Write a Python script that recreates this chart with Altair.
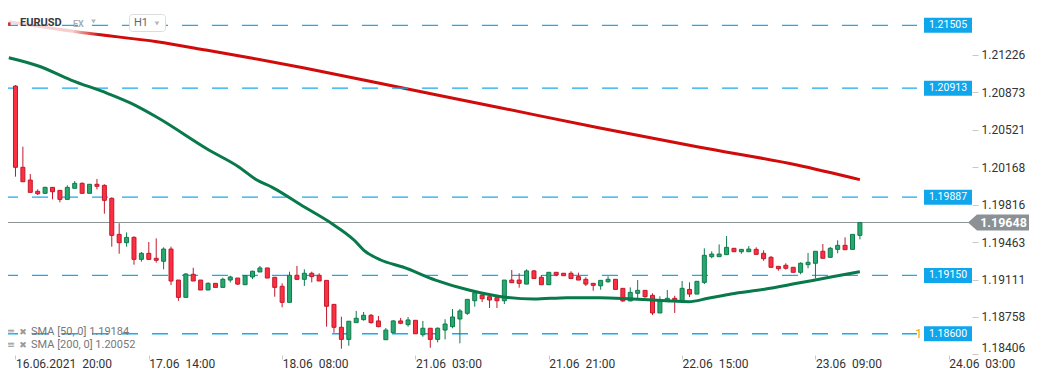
import altair as alt
import pandas as pd
import numpy as np

# ---------------- data ----------------
opens = [1.20933, 1.20168, 1.20048, 1.19942, 1.19923, 1.19979, 1.19951, 1.19866, 1.19970, 1.20017,
         1.19923, 1.20008, 1.19998, 1.19876, 1.19536, 1.19458, 1.19508, 1.19301, 1.19358, 1.19311,
         1.19283, 1.19398, 1.19106, 1.18943, 1.19160, 1.19106, 1.19012, 1.19075, 1.19037, 1.19106,
         1.19125, 1.19062, 1.19135, 1.19182, 1.19220, 1.19132, 1.19047, 1.18896, 1.19151, 1.19113,
         1.19170, 1.19151, 1.19103, 1.18877, 1.18661, 1.18547, 1.18705, 1.18733, 1.18774, 1.18721,
         1.18544, 1.18610, 1.18721, 1.18686, 1.18727, 1.18591, 1.18652, 1.18547, 1.18635, 1.18667,
         1.18739, 1.18793, 1.18911, 1.18965, 1.18949, 1.18940, 1.18911, 1.19106, 1.19106, 1.19068,
         1.19192, 1.19132, 1.19062, 1.19179, 1.19170, 1.19170, 1.19138, 1.19113, 1.19075, 1.19052,
         1.19090, 1.19113, 1.19028, 1.18909, 1.18981, 1.19009, 1.18962, 1.18796, 1.18906, 1.18934,
         1.18909, 1.19018, 1.18974, 1.19084, 1.19326, 1.19326, 1.19345, 1.19405, 1.19373, 1.19373,
         1.19395, 1.19358, 1.19320, 1.19235, 1.19245, 1.19226, 1.19179, 1.19251, 1.19264, 1.19377,
         1.19320, 1.19395, 1.19433, 1.19395, 1.19527]
highs = [1.20943, 1.20362, 1.20105, 1.19960, 1.19985, 1.19982, 1.19951, 1.19998, 1.20039, 1.20026,
         1.20008, 1.20058, 1.20008, 1.19885, 1.19641, 1.19555, 1.19518, 1.19370, 1.19464, 1.19499,
         1.19414, 1.19420, 1.19106, 1.19170, 1.19222, 1.19106, 1.19084, 1.19075, 1.19128, 1.19147,
         1.19125, 1.19147, 1.19194, 1.19239, 1.19220, 1.19132, 1.19075, 1.19185, 1.19239, 1.19207,
         1.19185, 1.19170, 1.19103, 1.18877, 1.18761, 1.18718, 1.18815, 1.18805, 1.18786, 1.18768,
         1.18654, 1.18727, 1.18749, 1.18758, 1.18727, 1.18721, 1.18652, 1.18660, 1.18737, 1.18833,
         1.18833, 1.18924, 1.19003, 1.18974, 1.18949, 1.18940, 1.19106, 1.19201, 1.19170, 1.19207,
         1.19201, 1.19154, 1.19179, 1.19179, 1.19170, 1.19189, 1.19176, 1.19132, 1.19075, 1.19103,
         1.19142, 1.19113, 1.19028, 1.19037, 1.19106, 1.19009, 1.18981, 1.18953, 1.19012, 1.18958,
         1.19097, 1.19084, 1.19094, 1.19405, 1.19377, 1.19442, 1.19520, 1.19405, 1.19395, 1.19426,
         1.19414, 1.19386, 1.19333, 1.19235, 1.19264, 1.19226, 1.19273, 1.19361, 1.19377, 1.19445,
         1.19417, 1.19480, 1.19508, 1.19536, 1.19653]
lows = [1.20080, 1.20032, 1.19932, 1.19907, 1.19920, 1.19866, 1.19838, 1.19866, 1.19970, 1.19923,
        1.19923, 1.19960, 1.19731, 1.19420, 1.19354, 1.19420, 1.19251, 1.19279, 1.19298, 1.19270,
        1.19207, 1.19059, 1.18911, 1.18943, 1.19097, 1.19012, 1.19012, 1.19037, 1.19037, 1.19084,
        1.19059, 1.19062, 1.19116, 1.19182, 1.19125, 1.18949, 1.18849, 1.18896, 1.19106, 1.19050,
        1.19084, 1.19097, 1.18667, 1.18610, 1.18459, 1.18487, 1.18705, 1.18723, 1.18695, 1.18661,
        1.18544, 1.18610, 1.18690, 1.18667, 1.18600, 1.18572, 1.18468, 1.18519, 1.18547, 1.18652,
        1.18510, 1.18777, 1.18855, 1.18899, 1.18843, 1.18843, 1.18880, 1.19081, 1.19034, 1.19068,
        1.19120, 1.19062, 1.19062, 1.19142, 1.19147, 1.19120, 1.19106, 1.19050, 1.19005, 1.19015,
        1.19081, 1.19018, 1.18902, 1.18909, 1.18934, 1.18940, 1.18777, 1.18796, 1.18906, 1.18796,
        1.18909, 1.18946, 1.18974, 1.19068, 1.19311, 1.19326, 1.19345, 1.19373, 1.19354, 1.19373,
        1.19348, 1.19288, 1.19226, 1.19194, 1.19204, 1.19179, 1.19160, 1.19217, 1.19122, 1.19311,
        1.19320, 1.19358, 1.19392, 1.19395, 1.19489]
closes = [1.20168, 1.20032, 1.19932, 1.19919, 1.19979, 1.19938, 1.19866, 1.19979, 1.20017, 1.19923,
          1.20008, 1.19989, 1.19857, 1.19527, 1.19458, 1.19508, 1.19301, 1.19358, 1.19301, 1.19292,
          1.19398, 1.19097, 1.18943, 1.19163, 1.19097, 1.19012, 1.19075, 1.19037, 1.19113, 1.19135,
          1.19068, 1.19147, 1.19189, 1.19220, 1.19125, 1.19037, 1.18896, 1.19151, 1.19113, 1.19170,
          1.19138, 1.19097, 1.18859, 1.18661, 1.18547, 1.18718, 1.18746, 1.18774, 1.18705, 1.18667,
          1.18635, 1.18721, 1.18699, 1.18730, 1.18600, 1.18652, 1.18547, 1.18652, 1.18692, 1.18758,
          1.18815, 1.18924, 1.18987, 1.18930, 1.18918, 1.18911, 1.19106, 1.19081, 1.19075, 1.19192,
          1.19120, 1.19062, 1.19179, 1.19154, 1.19147, 1.19120, 1.19106, 1.19068, 1.19056, 1.19103,
          1.19113, 1.19018, 1.18909, 1.18990, 1.19009, 1.18949, 1.18796, 1.18906, 1.18934, 1.18915,
          1.19028, 1.18974, 1.19094, 1.19339, 1.19351, 1.19351, 1.19414, 1.19373, 1.19395, 1.19398,
          1.19348, 1.19307, 1.19226, 1.19213, 1.19217, 1.19179, 1.19264, 1.19273, 1.19377, 1.19311,
          1.19405, 1.19433, 1.19392, 1.19536, 1.19648]

sma50_idx = [-0.9, 3.1, 7.5, 12.4, 15.5, 19.1, 26.1, 30.1, 32.6, 34.6, 39.0, 42.6, 45.7, 47.0, 49.3,
             52.3, 56.7, 61.2, 65.6, 70.0, 74.5, 78.9, 83.3, 87.8, 90.9, 93.5, 96.6, 101.1,
             105.5, 109.9, 114]
sma50_val = [1.21200, 1.21122, 1.20990, 1.20865, 1.20774, 1.20639, 1.20331, 1.20174, 1.20048,
             1.19982, 1.19794, 1.19643, 1.19483, 1.19389, 1.19295, 1.19229, 1.19106, 1.19012,
             1.18949, 1.18927, 1.18940, 1.18940, 1.18927, 1.18911, 1.18902, 1.18934, 1.18975,
             1.19019, 1.19075, 1.19132, 1.19184]

sma200_idx = [-0.9, 9.8, 19.1, 25.7, 32.0, 39.0, 52.3, 65.6, 78.9, 92.2, 105.5, 114]
sma200_val = [1.21540, 1.21430, 1.21351, 1.21273, 1.21195, 1.21103, 1.20915, 1.20727, 1.20538,
              1.20359, 1.20190, 1.20052]

levels = [1.21505, 1.20913, 1.19887, 1.19150, 1.18600]
last_price = 1.19648
y_ticks = [1.18406, 1.18758, 1.19111, 1.19463, 1.19816, 1.20168, 1.20521, 1.20873, 1.21226]
x_tick_idx = [0, 18, 36, 54, 72, 90, 108, 126]
x_tick_labels = ["16.06.2021\u00a0\u00a020:00", "17.06\u00a0\u00a014:00", "18.06\u00a0\u00a008:00",
                 "21.06\u00a0\u00a003:00", "21.06\u00a0\u00a021:00", "22.06\u00a0\u00a015:00",
                 "23.06\u00a0\u00a009:00", "24.06\u00a0\u00a003:00"]
legend_lines = ["SMA [50, 0] 1.19184", "SMA [200, 0] 1.20052"]

# ---------------- layout ----------------
W, H = 964, 347
x_scale = alt.Scale(domain=[-0.334, 128.46], nice=False, zero=False)
y_scale = alt.Scale(domain=[1.18400, 1.216686], nice=False, zero=False)

FONT = "Roboto"
UP_FILL, UP_LINE = "#27a86f", "#0f7a4c"
DN_FILL, DN_LINE = "#fd3043", "#c2182b"
BLUE = "#17aaee"

label_expr = "".join(f"datum.value == {v} ? '{s}' : " for v, s in zip(x_tick_idx, x_tick_labels)) + "''"

x_axis = alt.Axis(values=x_tick_idx, labelExpr=label_expr, labelAlign="left", labelFont=FONT,
                  labelFontSize=12, labelColor="#333333", tickColor="#c8c8c8", tickSize=4,
                  labelPadding=-1, domain=False, grid=False, title=None, labelOverlap=False,
                  labelFlush=False, labelBound=False)
y_axis = alt.Axis(orient="right", values=y_ticks, format=".5f", labelFont=FONT, labelFontSize=12,
                  labelColor="#333333", tickColor="#c8c8c8", tickSize=6, labelPadding=3,
                  domain=False, grid=False, title=None, labelFlush=True, labelFlushOffset=0,
                  labelOverlap=False, labelBound=False)

candles = pd.DataFrame({"i": list(range(len(opens))), "open": opens, "high": highs,
                        "low": lows, "close": closes})
candles["dir"] = np.where(candles["close"] >= candles["open"], "up", "down")

dir_fill = alt.Scale(domain=["up", "down"], range=[UP_FILL, DN_FILL])
dir_line = alt.Scale(domain=["up", "down"], range=[UP_LINE, DN_LINE])

sma50 = pd.DataFrame({"i": sma50_idx, "v": sma50_val})
sma200 = pd.DataFrame({"i": sma200_idx, "v": sma200_val})
lev = pd.DataFrame({"level": levels, "txt": [f"{v:.5f}" for v in levels]})
cur = pd.DataFrame({"p": [last_price], "txt": [f"{last_price:.5f}"]})


def X(f):
    return alt.X(f, type="quantitative", scale=x_scale, axis=x_axis)


def Y(f):
    return alt.Y(f, type="quantitative", scale=y_scale, axis=y_axis)


one = pd.DataFrame({"a": [0]})

red_line = alt.Chart(sma200).mark_line(color="#d10a0a", strokeWidth=3, interpolate="monotone").encode(
    x=X("i"), y=Y("v"))

fade = alt.Chart(one).mark_rect(
    fill=alt.LinearGradient(gradient="linear", x1=0, x2=1, y1=0, y2=0, stops=[
        alt.GradientStop(color="rgba(255,255,255,0.85)", offset=0),
        alt.GradientStop(color="rgba(255,255,255,0.8)", offset=0.7),
        alt.GradientStop(color="rgba(255,255,255,0)", offset=1)])
).encode(x=alt.value(0), x2=alt.value(92), y=alt.value(6), y2=alt.value(28))

dashed = alt.Chart(lev).mark_rule(color=BLUE, strokeWidth=1.3, strokeDash=[16, 14], strokeDashOffset=6).encode(
    y=Y("level"), x=alt.value(0), x2=alt.value(909))

price_line = alt.Chart(cur).mark_rule(color="#8e9496", strokeWidth=1).encode(
    y=Y("p"), x=alt.value(0), x2=alt.value(962))

wicks = alt.Chart(candles).mark_rule(strokeWidth=1).encode(
    x=X("i"), y=Y("low"), y2="high",
    color=alt.Color("dir:N", scale=dir_line, legend=None))

bodies = alt.Chart(candles).mark_bar(size=4, strokeWidth=1).encode(
    x=X("i"), y=Y("open"), y2="close",
    fill=alt.Fill("dir:N", scale=dir_fill, legend=None),
    stroke=alt.Stroke("dir:N", scale=dir_line, legend=None))

green_line = alt.Chart(sma50).mark_line(color="#07794a", strokeWidth=3, interpolate="monotone").encode(
    x=X("i"), y=Y("v"))

orange_one = alt.Chart(pd.DataFrame({"t": ["1"]})).mark_text(
    align="left", baseline="middle", font=FONT, fontSize=13, color="#f5a623").encode(
    text="t:N", x=alt.value(907), y=alt.value(326))

level_boxes = alt.Chart(lev).mark_rect(color="#10a6ec", yOffset=-7.5, y2Offset=7.5).encode(
    y=Y("level"), y2="level", x=alt.value(916), x2=alt.value(964))
level_text = alt.Chart(lev).mark_text(color="white", font=FONT, fontSize=10.5, align="center",
                                      baseline="middle").encode(
    y=Y("level"), x=alt.value(940), text="txt:N")

tag_shape = "M-1,0L-0.705,-0.262L1,-0.262L1,0.262L-0.705,0.262Z"
price_tag = alt.Chart(cur).mark_point(shape=tag_shape, size=3721, filled=True, opacity=1,
                                      color="#8b9195").encode(y=Y("p"), x=alt.value(990.5))
price_text = alt.Chart(cur).mark_text(color="white", font=FONT, fontSize=12.5, fontWeight="bold",
                                      align="center", baseline="middle").encode(
    y=Y("p"), x=alt.value(995.5), text="txt:N")

# header
hdr_box = alt.Chart(one).mark_rect(
    fill="white", stroke="#dcdcdc", strokeWidth=1, cornerRadius=3).encode(
    x=alt.value(121.5), x2=alt.value(157.5), y=alt.value(6.5), y2=alt.value(23.5))
hdr_sq = alt.Chart(one).mark_square(size=10, color="#d32f2f", opacity=1).encode(
    x=alt.value(1), y=alt.value(16))
hdr_sym = alt.Chart(pd.DataFrame({"t": ["EURUSD"]})).mark_text(
    align="left", baseline="middle", font=FONT, fontSize=11, fontWeight="bold", color="#3a3a3a").encode(
    text="t:N", x=alt.value(12), y=alt.value(15))
hdr_ex = alt.Chart(pd.DataFrame({"t": ["EX"]})).mark_text(
    align="left", baseline="middle", font=FONT, fontSize=9, fontWeight="bold", color="#a8b0b8").encode(
    text="t:N", x=alt.value(65), y=alt.value(16))
hdr_h1 = alt.Chart(pd.DataFrame({"t": ["H1"]})).mark_text(
    align="left", baseline="middle", font=FONT, fontSize=11, color="#666666").encode(
    text="t:N", x=alt.value(126), y=alt.value(15))
hdr_tri1 = alt.Chart(one).mark_point(
    shape="triangle-down", size=22, filled=True, opacity=1, color="#b5b5b5").encode(
    x=alt.value(85.5), y=alt.value(13.5))
hdr_tri2 = alt.Chart(one).mark_point(
    shape="triangle-down", size=22, filled=True, opacity=1, color="#b5b5b5").encode(
    x=alt.value(149), y=alt.value(15.5))

# legend (bottom-left), one layer per row
legend_layers = []
for k, (txt, ry) in enumerate(zip(legend_lines, [324, 337])):
    legend_layers.append(alt.Chart(pd.DataFrame({"t": [txt]})).mark_text(
        align="left", baseline="middle", font=FONT, fontSize=11, color="#777777").encode(
        text="t:N", x=alt.value(23), y=alt.value(ry)))
    legend_layers.append(alt.Chart(one).mark_text(
        align="center", baseline="middle", font="DejaVu Sans", fontSize=10, color="#9a9a9a",
        text="\u2261").encode(x=alt.value(3), y=alt.value(ry)))
    legend_layers.append(alt.Chart(one).mark_text(
        align="center", baseline="middle", font="DejaVu Sans", fontSize=9, color="#9a9a9a",
        text="\u2716").encode(x=alt.value(15), y=alt.value(ry)))

chart = alt.layer(
    red_line, fade, dashed, price_line, wicks, bodies, green_line,
    orange_one, level_boxes, level_text, price_tag, price_text,
    hdr_box, hdr_sq, hdr_sym, hdr_ex, hdr_h1, hdr_tri1, hdr_tri2,
    *legend_layers,
).properties(
    width=W, height=H,
    autosize=alt.AutoSizeParams(type="none"),
    padding={"left": 0, "top": 0, "right": 61, "bottom": 17},
    background="white",
).configure_view(stroke=None)

chart.save("out.html", embed_options={"renderer": "svg", "actions": False})
